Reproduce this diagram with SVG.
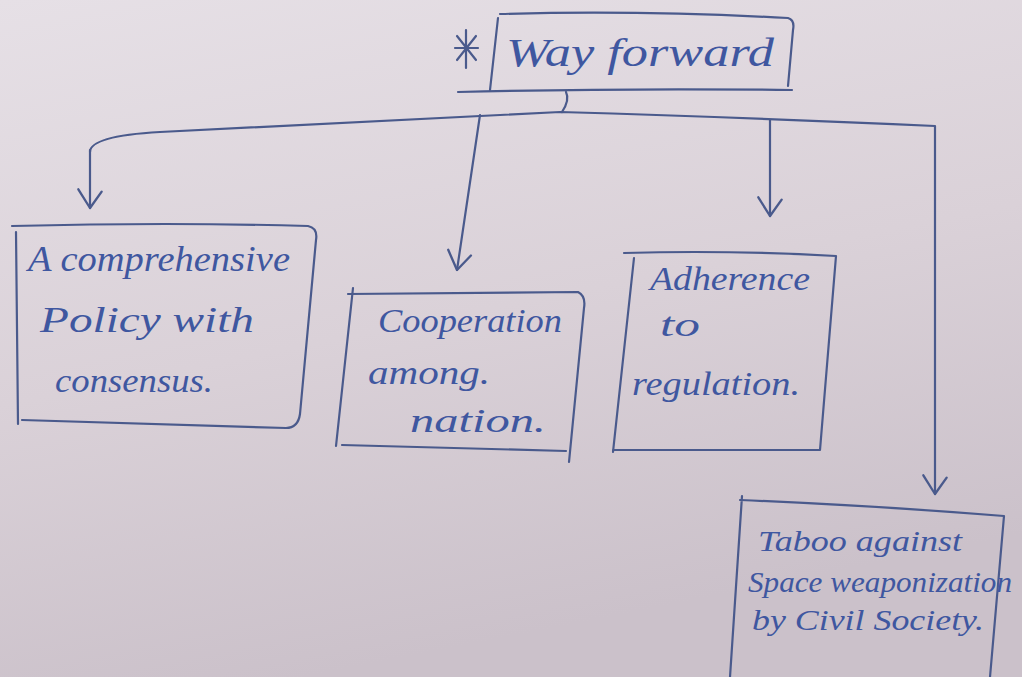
<svg xmlns="http://www.w3.org/2000/svg" width="1022" height="677" viewBox="0 0 1022 677">
  <defs>
    <linearGradient id="paper" x1="0" y1="0" x2="0.3" y2="1">
      <stop offset="0" stop-color="#e6e0e6"/>
      <stop offset="0.55" stop-color="#dad1d8"/>
      <stop offset="1" stop-color="#cbc1ca"/>
    </linearGradient>
    <!-- open tick arrowhead, drawn along +x so orient="auto" points it down the line -->
    <marker id="tick" viewBox="0 0 20 24" refX="18" refY="12" markerWidth="24" markerHeight="28" markerUnits="userSpaceOnUse" orient="auto">
      <path d="M4,2 L18,12 L2,22" fill="none" stroke="#4a5a8c" stroke-width="2" stroke-linecap="round" stroke-linejoin="round"/>
    </marker>
  </defs>
  <style>
    .ink { fill: none; stroke: #4a5a8c; stroke-width: 2.2; stroke-linecap: round; stroke-linejoin: round; }
    .hand { font-family: "Liberation Serif", "DejaVu Serif", serif; font-style: italic; fill: #3f57a0; }
  </style>

  <!-- paper -->
  <rect width="1022" height="677" fill="url(#paper)"/>

  <!-- connectors -->
  <g id="connectors" class="ink">
    <path d="M90,152 Q90,136 160,132 L560,112 Q760,118 935,126 L935,494" marker-end="url(#tick)"/>
    <path d="M90,150 L90,208" marker-end="url(#tick)"/>
    <path d="M480,115 L457,270" marker-end="url(#tick)"/>
    <path d="M770,120 L770,216" marker-end="url(#tick)"/>
    <path d="M566,92 Q570,100 562,112"/>
  </g>

  <!-- title -->
  <g id="way-forward">
    <path class="ink" d="M455,48 L478,48 M466,30 L466,68 M457,36 L476,60 M476,36 L457,60" stroke-width="1.8"/>
    <path class="ink" d="M500,14 Q640,10 788,18 Q795,20 793,30 L788,86 M498,18 L490,90"/>
    <path class="ink" d="M458,92 Q620,88 792,90"/>
    <text class="hand" x="506" y="66" font-size="40" textLength="268" lengthAdjust="spacingAndGlyphs">Way forward</text>
  </g>

  <!-- branch 1 -->
  <g id="policy">
    <path class="ink" d="M12,226 Q170,222 308,226 Q318,228 316,240 L300,414 Q298,428 286,428 L22,420 M16,232 L18,424"/>
    <text class="hand" x="28" y="271" font-size="36" textLength="262" lengthAdjust="spacingAndGlyphs">A comprehensive</text>
    <text class="hand" x="40" y="332" font-size="36" textLength="214" lengthAdjust="spacingAndGlyphs">Policy with</text>
    <text class="hand" x="55" y="392" font-size="34" textLength="158" lengthAdjust="spacingAndGlyphs">consensus.</text>
  </g>

  <!-- branch 2 -->
  <g id="cooperation">
    <path class="ink" d="M348,294 L578,292 Q586,296 584,308 L569,462 M353,288 L336,446 M342,445 L566,451"/>
    <text class="hand" x="378" y="332" font-size="34" textLength="184" lengthAdjust="spacingAndGlyphs">Cooperation</text>
    <text class="hand" x="368" y="384" font-size="34" textLength="122" lengthAdjust="spacingAndGlyphs">among.</text>
    <text class="hand" x="410" y="432" font-size="34" textLength="136" lengthAdjust="spacingAndGlyphs">nation.</text>
  </g>

  <!-- branch 3 -->
  <g id="adherence">
    <path class="ink" d="M624,253 Q730,250 836,256 L820,450 M634,258 L613,452 M613,450 L820,450"/>
    <text class="hand" x="650" y="290" font-size="34" textLength="160" lengthAdjust="spacingAndGlyphs">Adherence</text>
    <text class="hand" x="660" y="336" font-size="34" textLength="40" lengthAdjust="spacingAndGlyphs">to</text>
    <text class="hand" x="632" y="395" font-size="34" textLength="168" lengthAdjust="spacingAndGlyphs">regulation.</text>
  </g>

  <!-- branch 4 -->
  <g id="taboo">
    <path class="ink" d="M740,500 Q880,506 1004,516 L990,677 M742,496 L730,677"/>
    <text class="hand" x="758" y="551" font-size="30" textLength="204" lengthAdjust="spacingAndGlyphs">Taboo against</text>
    <text class="hand" x="748" y="592" font-size="30" textLength="264" lengthAdjust="spacingAndGlyphs">Space weaponization</text>
    <text class="hand" x="752" y="630" font-size="30" textLength="232" lengthAdjust="spacingAndGlyphs">by Civil Society.</text>
  </g>
</svg>
